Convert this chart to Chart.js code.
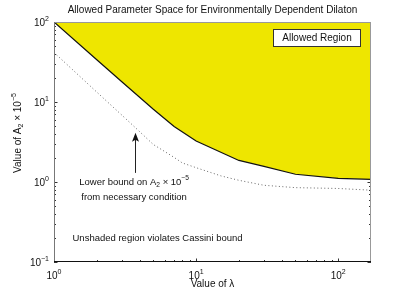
<!DOCTYPE html>
<html>
<head>
<meta charset="utf-8">
<style>
html,body{margin:0;padding:0;background:#fff;}
canvas{display:block;}
</style>
<script src="https://cdn.jsdelivr.net/npm/chart.js@4.4.1/dist/chart.umd.min.js"></script>
</head>
<body>
<canvas id="c" width="409" height="296"></canvas>
<script>
// ---- data ----
const lambdaAllowed = [1, 2, 3, 5, 7, 10, 20, 30, 50, 100, 170];
const a2Allowed     = [100, 33.7, 17.9, 8.13, 4.95, 3.25, 1.86, 1.57, 1.25, 1.11, 1.08];
const lambdaLower   = [1, 2, 3, 4, 5, 6, 7, 8, 10, 15, 20, 30, 50, 100, 170];
const a2Lower       = [41.6, 13.3, 6.86, 4.27, 2.94, 2.41, 2.03, 1.73, 1.51, 1.19, 1.05, 0.91, 0.85, 0.83, 0.79];
const xTickValues   = [1, 10, 100];
const xTickExps     = ['0', '1', '2'];
const yTickValues   = [0.1, 1, 10, 100];
const yTickExps     = ['\u22121', '0', '1', '2'];
const titleText     = 'Allowed Parameter Space for Environmentally Dependent Dilaton';
const legendText    = 'Allowed Region';

const FONT = '"Liberation Sans", Arial, Helvetica, sans-serif';

function segWidth(ctx, s, size) {
  const sz = (s.sub || s.sup) ? size * 0.7 : size;
  ctx.font = sz + 'px ' + FONT;
  return ctx.measureText(s.t).width;
}
function drawRich(ctx, segs, x, y, size, align) {
  let total = 0;
  segs.forEach(s => total += segWidth(ctx, s, size));
  let cx = align === 'center' ? x - total / 2 : (align === 'right' ? x - total : x);
  ctx.textBaseline = 'middle';
  ctx.textAlign = 'left';
  segs.forEach(s => {
    const sz = (s.sub || s.sup) ? size * 0.7 : size;
    ctx.font = sz + 'px ' + FONT;
    let dy = 0;
    if (s.sub) dy = size * 0.35;
    if (s.sup) dy = -size * 0.42;
    ctx.fillText(s.t, cx, y + dy);
    cx += ctx.measureText(s.t).width;
  });
}

const axesPlugin = {
  id: 'matlabAxes',
  beforeDatasetsDraw(chart) {
    const ctx = chart.ctx, a = chart.chartArea;
    const xs = chart.scales.x, ys = chart.scales.y;
    ctx.save();
    ctx.strokeStyle = '#333';
    ctx.lineWidth = 1;
    ctx.beginPath();
    for (let d = 1; d <= 100; d *= 10) {
      for (let k = 1; k <= 9; k++) {
        const v = d * k;
        if (v > xs.max) continue;
        const px = Math.round(xs.getPixelForValue(v)) + 0.5;
        const len = k === 1 ? 3.5 : 2;
        ctx.moveTo(px, a.bottom); ctx.lineTo(px, a.bottom - len);
        ctx.moveTo(px, a.top); ctx.lineTo(px, a.top + len);
      }
    }
    for (let d = 0.1; d <= 100; d *= 10) {
      for (let k = 1; k <= 9; k++) {
        const v = d * k;
        if (v > ys.max * 1.0001) continue;
        const py = Math.round(ys.getPixelForValue(v)) + 0.5;
        const len = k === 1 ? 3.5 : 2;
        ctx.moveTo(a.left, py); ctx.lineTo(a.left + len, py);
        ctx.moveTo(a.right, py); ctx.lineTo(a.right - len, py);
      }
    }
    ctx.stroke();
    ctx.restore();
  },
  afterDatasetsDraw(chart) {
    const ctx = chart.ctx, a = chart.chartArea;
    const xs = chart.scales.x, ys = chart.scales.y;
    ctx.save();
    ctx.lineWidth = 1;
    ctx.strokeStyle = '#999';
    ctx.beginPath();
    ctx.moveTo(a.left, a.top + 0.5); ctx.lineTo(a.right, a.top + 0.5);
    ctx.moveTo(a.right - 0.5, a.top); ctx.lineTo(a.right - 0.5, a.bottom);
    ctx.stroke();
    ctx.strokeStyle = '#777';
    ctx.beginPath();
    ctx.moveTo(a.left + 0.5, a.top); ctx.lineTo(a.left + 0.5, a.bottom);
    ctx.stroke();
    ctx.strokeStyle = '#111';
    ctx.beginPath();
    ctx.moveTo(a.left, a.bottom - 0.5); ctx.lineTo(a.right, a.bottom - 0.5);
    ctx.stroke();

    ctx.fillStyle = '#111';
    yTickValues.forEach((v, i) => {
      const py = ys.getPixelForValue(v);
      drawRich(ctx, [{t: '10'}, {t: yTickExps[i], sup: true}], 49, py + 1, 10, 'right');
    });
    xTickValues.forEach((v, i) => {
      const px = xs.getPixelForValue(v);
      drawRich(ctx, [{t: '10'}, {t: xTickExps[i], sup: true}], px, a.bottom + 14, 10, 'center');
    });
    ctx.font = '10px ' + FONT;
    ctx.textAlign = 'center'; ctx.textBaseline = 'middle';
    ctx.fillText(titleText, (a.left + a.right) / 2, 10);
    drawRich(ctx, [{t: 'Value of \u03bb'}], (a.left + a.right) / 2, 284, 10, 'center');
    ctx.save();
    ctx.translate(18, 133);
    ctx.rotate(-Math.PI / 2);
    drawRich(ctx, [{t: 'Value of A'}, {t: '2', sub: true}, {t: ' \u00d7 10'}, {t: '\u22125', sup: true}], 0, 0, 10, 'center');
    ctx.restore();

    const lx = a.right - 98, ly = a.top + 7, lw = 88, lh = 18;
    ctx.fillStyle = '#fff';
    ctx.fillRect(lx, ly, lw, lh);
    ctx.strokeStyle = '#333';
    ctx.strokeRect(lx + 0.5, ly + 0.5, lw - 1, lh - 1);
    ctx.fillStyle = '#111';
    ctx.font = '10px ' + FONT;
    ctx.textAlign = 'center'; ctx.textBaseline = 'middle';
    ctx.fillText(legendText, lx + lw / 2, ly + lh / 2 + 0.5);

    const ax = Math.round(xs.getPixelForValue(3.72)) + 0.5;
    const tipY = ys.getPixelForValue(4.13);
    const tailY = ys.getPixelForValue(1.3);
    ctx.strokeStyle = '#222';
    ctx.beginPath();
    ctx.moveTo(ax, tailY); ctx.lineTo(ax, tipY + 6);
    ctx.stroke();
    ctx.fillStyle = '#111';
    ctx.beginPath();
    ctx.moveTo(ax, tipY);
    ctx.lineTo(ax - 3.5, tipY + 9);
    ctx.lineTo(ax, tipY + 7);
    ctx.lineTo(ax + 3.5, tipY + 9);
    ctx.closePath();
    ctx.fill();

    const tx = xs.getPixelForValue(3.66);
    drawRich(ctx, [{t: 'Lower bound on A'}, {t: '2', sub: true}, {t: ' \u00d7 10'}, {t: '\u22125', sup: true}],
      tx, ys.getPixelForValue(1.0), 9.5, 'center');
    drawRich(ctx, [{t: 'from necessary condition'}], tx, ys.getPixelForValue(0.65), 9.5, 'center');
    drawRich(ctx, [{t: 'Unshaded region violates Cassini bound'}],
      xs.getPixelForValue(5.35), ys.getPixelForValue(0.2), 9.5, 'center');
    ctx.restore();
  }
};

new Chart(document.getElementById('c'), {
  type: 'line',
  data: {
    datasets: [
      {
        label: legendText,
        data: lambdaAllowed.map((x, i) => ({x: x, y: a2Allowed[i]})),
        borderColor: '#111',
        borderWidth: 1.2,
        backgroundColor: '#eee600',
        fill: 'end',
        pointRadius: 0,
        tension: 0
      },
      {
        label: 'Lower bound',
        data: lambdaLower.map((x, i) => ({x: x, y: a2Lower[i]})),
        borderColor: '#666',
        borderWidth: 1,
        borderDash: [1, 2.5],
        fill: false,
        pointRadius: 0,
        tension: 0
      }
    ]
  },
  options: {
    responsive: false,
    animation: false,
    events: [],
    layout: {padding: {left: 54, right: 38, top: 22, bottom: 34}},
    plugins: {legend: {display: false}, title: {display: false}, tooltip: {enabled: false}},
    scales: {
      x: {type: 'logarithmic', min: 1, max: 170, display: false},
      y: {type: 'logarithmic', min: 0.1, max: 100, display: false}
    }
  },
  plugins: [axesPlugin]
});
</script>
</body>
</html>
